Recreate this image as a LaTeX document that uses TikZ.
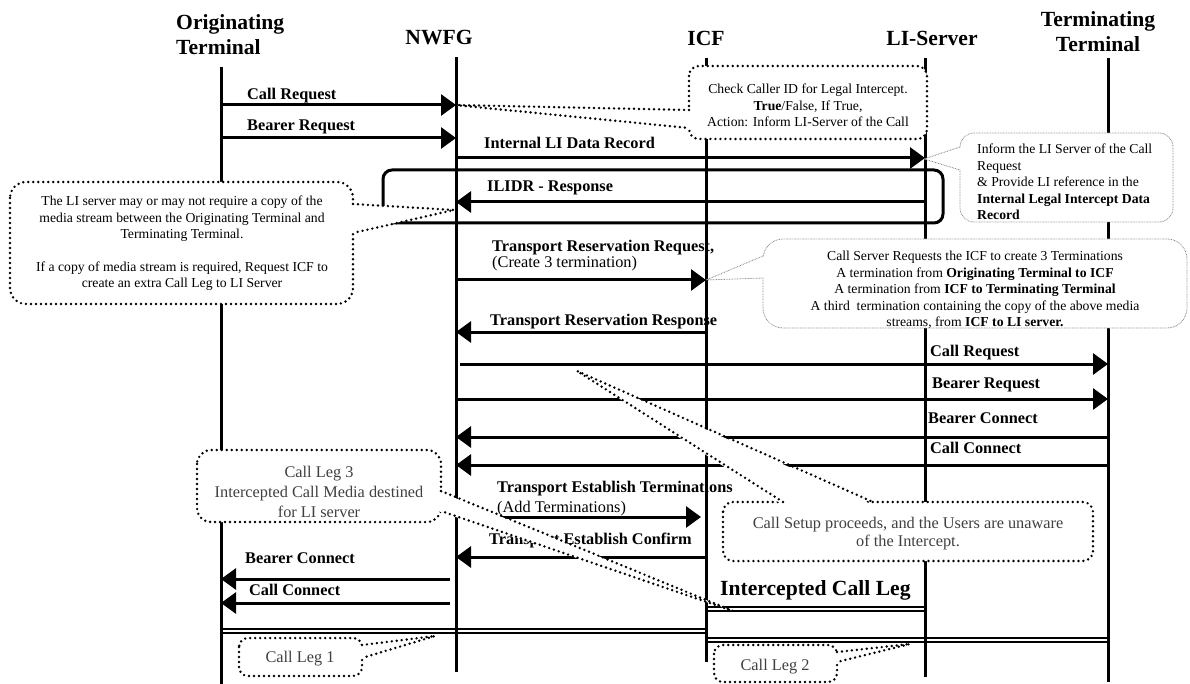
\documentclass[tikz,border=0pt]{standalone}
\usepackage{fontspec}
\setmainfont{Liberation Serif}
\usetikzlibrary{arrows.meta}
\definecolor{cgray}{HTML}{404040}
\definecolor{fgray}{HTML}{8C8C8C}
\begin{document}
\begin{tikzpicture}[x=1pt,y=-1pt,
  life/.style={line width=3pt},
  msg/.style={line width=3pt,-{Triangle[length=15pt,width=21pt]}},
  hdr/.style={font=\fontsize{21.6}{25}\selectfont\bfseries,inner sep=0pt},
  hdrone/.style={hdr,text height=14.3pt,text depth=0pt},
  lbl/.style={font=\fontsize{16.3}{18}\selectfont\bfseries,inner sep=0pt,text height=10.8pt,text depth=0pt,anchor=west},
  lblr/.style={lbl,font=\fontsize{16.3}{18}\selectfont},
  heavy/.style={draw=black,line width=2.7pt,line cap=round,dash pattern=on 0pt off 5pt},
  fine/.style={draw=fgray,line width=0.8pt,dash pattern=on 0.8pt off 0.8pt},
  ctext/.style={font=\fontsize{13.7}{16.5}\selectfont,inner sep=0pt,align=center,anchor=north},
  gtext/.style={font=\fontsize{16.3}{20}\selectfont,text=cgray,inner sep=0pt,align=center},
  legline/.style={line width=1.8pt,double=white,double distance=2.2pt},
]
\useasboundingbox (0,0) rectangle (1190,684);

% lifeline end points
\coordinate (Ot) at (221,67);  \coordinate (Ob) at (221,684);
\coordinate (Nt) at (456,57);  \coordinate (Nb) at (456,672);
\coordinate (It) at (706,58);  \coordinate (Ib) at (706,662);
\coordinate (Lt) at (925,58);  \coordinate (Lb) at (925,677);
\coordinate (Tt) at (1108,58); \coordinate (Tb) at (1108,682);

% headers
\node[hdr,align=left,anchor=north west] (hO) at (176,14.2) {Originating\\Terminal};
\node[hdrone] (hN) at (439,37) {NWFG};
\node[hdrone] (hI) at (706,38) {ICF};
\node[hdrone] (hL) at (932,38) {LI-Server};
\node[hdr,align=center,anchor=north] (hT) at (1098,11.2) {Terminating\\Terminal};

% call legs (double lines)
\draw[legline] (Ot |- 0,631) -- (It |- 0,631);
\draw[legline] (It |- 0,609) -- (Lt |- 0,609);
\draw[legline] (It |- 0,640) -- (Tt |- 0,640);

% lifelines
\draw[life] (Ot) -- (Ob);
\draw[life] (Nt) -- (Nb);
\draw[life] (It) -- (Ib);
\draw[life] (Lt) -- (Lb);
\draw[life] (Tt) -- (Tb);

% ILIDR box
\draw[line width=3pt,rounded corners=9pt] (383,170) rectangle (943,223);

% callout: check caller
\draw[heavy,fill=white,rounded corners=10pt] (689,66) rectangle (927,139);
\coordinate (tipA) at (455,105);
\fill[white] (692,110) -- (tipA) -- (692,128) -- cycle;
\draw[heavy] (689,110) -- (tipA) -- (689,128);
\node[ctext] (cc) at (808,84.1) {Check Caller ID for Legal Intercept.\\\textbf{True}/False, If True,\\Action: Inform LI-Server of the Call};

% callout: LI server may or may not
\draw[heavy,fill=white,rounded corners=16pt] (10,182) rectangle (353,304);
\coordinate (tipB) at (454,210);
\fill[white] (350,204) -- (tipB) -- (350,233) -- cycle;
\draw[heavy] (353,204) -- (tipB) -- (353,233);
\node[ctext,font=\fontsize{13.7}{16.3}\selectfont] (cl) at (182,196.1) {The LI server may or may not require a copy of the\\media stream between the Originating Terminal and\\Terminating Terminal.\\[16.3pt]If a copy of media stream is required, Request ICF to\\create an extra Call Leg to LI Server};

% messages
\coordinate (s7) at (460,364);
\coordinate (s11) at (497,517); \coordinate (e11) at (701,517);
\coordinate (s13) at (450,579);
\coordinate (s14) at (450,603);
\draw[msg] (Ot |- 0,105) -- (Nt |- 0,105);
\draw[msg] (Ot |- 0,138) -- (Nt |- 0,138);
\draw[msg] (Nt |- 0,158) -- (Lt |- 0,158);
\draw[msg] (Lt |- 0,202) -- (Nt |- 0,202);
\draw[msg] (Nt |- 0,280) -- (It |- 0,280);
\draw[msg] (It |- 0,332) -- (Nt |- 0,332);
\draw[msg] (s7) -- (Tt |- 0,364);
\draw[msg] (Nt |- 0,399) -- (Tt |- 0,399);
\draw[msg] (Tt |- 0,437) -- (Nt |- 0,437);
\draw[msg] (Tt |- 0,465) -- (Nt |- 0,465);
\draw[msg] (s11) -- (e11);
\draw[msg] (It |- 0,557) -- (Nt |- 0,557);
\draw[msg] (s13) -- (Ot |- 0,579);
\draw[msg] (s14) -- (Ot |- 0,603);

% message labels
\node[lbl] (m1) at (247,94) {Call Request};
\node[lbl] (m2) at (247,125) {Bearer Request};
\node[lbl] (m3) at (484,143) {Internal LI Data Record};
\node[lbl] (m4) at (487,186) {ILIDR - Response};
\node[lbl] (m5) at (492,246) {Transport Reservation Request,};
\node[lblr] (m5b) at (492,262) {(Create 3 termination)};
\node[lbl] (m6) at (490,320) {Transport Reservation Response};
\node[lbl] (m7) at (930,351) {Call Request};
\node[lbl] (m8) at (932,383) {Bearer Request};
\node[lbl] (m9) at (928,418) {Bearer Connect};
\node[lbl] (m10) at (930,448) {Call Connect};
\node[lbl] (m11) at (497,487) {Transport Establish Terminations};
\node[lblr] (m11b) at (497,507) {(Add Terminations)};
\node[lbl] (m12) at (489,539) {Transport Establish Confirm};
\node[lbl] (m13) at (245,558) {Bearer Connect};
\node[lbl] (m14) at (249,590) {Call Connect};
\node[lbl,font=\fontsize{21.6}{25}\selectfont\bfseries,text height=14.3pt] (icl) at (720,588) {Intercepted Call Leg};

% callout: inform LI server
\draw[fine,fill=white,rounded corners=14pt] (960,133) rectangle (1173,222);
\coordinate (tipC) at (924,159);
\fill[white] (962,147) -- (tipC) -- (962,170) -- cycle;
\draw[fine] (960,147) -- (tipC) -- (960,170);
\node[ctext,align=left,anchor=north west] (ci) at (977,144.1) {Inform the LI Server of the Call\\Request\\\& Provide LI reference in the\\\textbf{Internal Legal Intercept Data}\\\textbf{Record}};

% callout: call server requests
\draw[fine,fill=white,rounded corners=20pt] (763,239) rectangle (1187,328);
\coordinate (tipD) at (706,280);
\fill[white] (765,256) -- (tipD) -- (765,278) -- cycle;
\draw[fine] (763,256) -- (tipD) -- (763,278);
\node[ctext] (cs) at (975,251.1) {Call Server Requests the ICF to create 3 Terminations\\A termination from \textbf{Originating Terminal to ICF}\\A termination from \textbf{ICF to Terminating Terminal}\\A third\ \ termination containing the copy of the above media\\streams, from \textbf{ICF to LI server.}};

% callout: call setup proceeds
\draw[heavy,fill=white,rounded corners=10pt] (723,502) rectangle (1093,561);
\coordinate (tipE) at (577,371);
\fill[white] (783,505) -- (tipE) -- (873,505) -- cycle;
\draw[heavy] (783,502) -- (tipE) -- (873,502);
\node[gtext,font=\fontsize{16.3}{18}\selectfont,anchor=north] (cu) at (908,517.1) {Call Setup proceeds, and the Users are unaware\\of the Intercept.};

% callout: call leg 3
\draw[heavy,fill=white,rounded corners=14pt] (197,450) rectangle (441,522);
\coordinate (tipF) at (733,611);
\fill[white] (438,491) -- (tipF) -- (438,511) -- cycle;
\draw[heavy] (441,491) -- (tipF) -- (441,511);
\node[gtext,anchor=north] (c3) at (319,466.1) {Call Leg 3\\Intercepted Call Media destined\\for LI server};

% callout: call leg 1
\draw[heavy,fill=white,rounded corners=9pt] (239,638) rectangle (362,676);
\coordinate (tipG) at (435,636);
\fill[white] (359,645) -- (tipG) -- (359,658) -- cycle;
\draw[heavy] (362,645) -- (tipG) -- (362,658);
\node[gtext,text height=10.8pt,text depth=0pt] (c1) at (300,657) {Call Leg 1};

% callout: call leg 2
\draw[heavy,fill=white,rounded corners=9pt] (714,645) rectangle (837,682);
\coordinate (tipH) at (910,644);
\fill[white] (834,652) -- (tipH) -- (834,662) -- cycle;
\draw[heavy] (837,652) -- (tipH) -- (837,662);
\node[gtext,text height=10.8pt,text depth=0pt] (c2) at (775,665) {Call Leg 2};
\end{tikzpicture}
\end{document}
